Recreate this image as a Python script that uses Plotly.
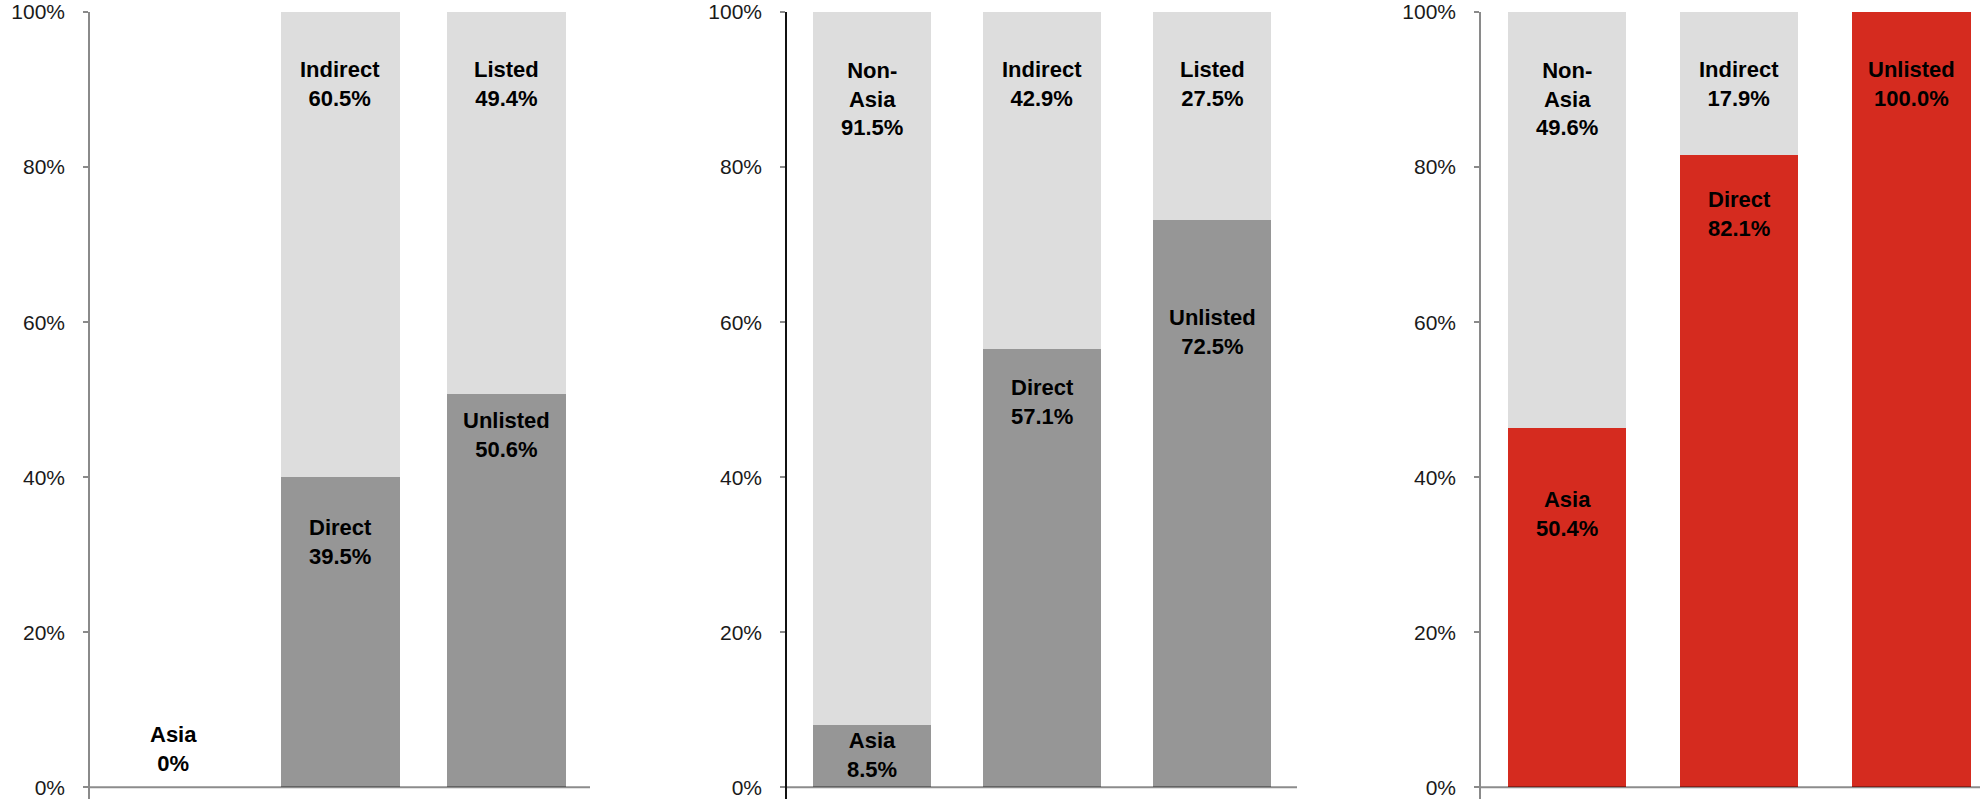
import plotly.graph_objects as go

# ---------------- data ----------------
categories = ["Region", "Route", "Listing"]

# panel 1 (bar heights as drawn, in %)
p1_bottom = [0.0, 40.0, 50.7]
p1_top = [0.0, 60.0, 49.3]
p1_bottom_labels = ["Asia<br>0%", "Direct<br>39.5%", "Unlisted<br>50.6%"]
p1_top_labels = ["", "Indirect<br>60.5%", "Listed<br>49.4%"]

# panel 2
p2_bottom = [8.1, 56.5, 73.2]
p2_top = [91.9, 43.5, 26.8]
p2_bottom_labels = ["Asia<br>8.5%", "Direct<br>57.1%", "Unlisted<br>72.5%"]
p2_top_labels = ["Non-<br>Asia<br>91.5%", "Indirect<br>42.9%", "Listed<br>27.5%"]

# panel 3
p3_bottom = [46.3, 81.5, 100.0]
p3_top = [53.7, 18.5, 0.0]
p3_bottom_labels = ["Asia<br>50.4%", "Direct<br>82.1%", "Unlisted<br>100.0%"]
p3_top_labels = ["Non-<br>Asia<br>49.6%", "Indirect<br>17.9%", ""]

y_ticks = [0, 20, 40, 60, 80, 100]
y_tick_text = ["0%", "20%", "40%", "60%", "80%", "100%"]

# label anchor heights (layout positions, % units)
p1_bottom_pos = [5.0, 31.6, 45.4]
p1_top_pos = [90.7, 90.7, 90.7]
p2_bottom_pos = [4.2, 49.7, 58.7]
p2_top_pos = [88.8, 90.7, 90.7]
p3_bottom_pos = [35.3, 74.0, 90.7]
p3_top_pos = [88.8, 90.7, 90.7]

# ---------------- style ----------------
LIGHT = "#DDDDDD"
DARK = "#969696"
RED = "#D52B1F"
FONT = "Arial, Liberation Sans, sans-serif"

panels = [
    dict(bottom=p1_bottom, top=p1_top, bl=p1_bottom_labels, tl=p1_top_labels,
         bp=p1_bottom_pos, tp=p1_top_pos, bcol=DARK, width=0.714,
         domain=[90 / 1980, 590 / 1980], xr=[-0.5, 2.5], axcol="#8a8a8a"),
    dict(bottom=p2_bottom, top=p2_top, bl=p2_bottom_labels, tl=p2_top_labels,
         bp=p2_bottom_pos, tp=p2_top_pos, bcol=DARK, width=0.694,
         domain=[787 / 1980, 1297 / 1980], xr=[-0.5, 2.5], axcol="#111111"),
    dict(bottom=p3_bottom, top=p3_top, bl=p3_bottom_labels, tl=p3_top_labels,
         bp=p3_bottom_pos, tp=p3_top_pos, bcol=RED, width=0.69,
         domain=[1481 / 1980, 1.0], xr=[-0.5, 2.4], axcol="#8a8a8a"),
]

fig = go.Figure()
annotations = []
shapes = []

for i, p in enumerate(panels, start=1):
    xa = "x" if i == 1 else f"x{i}"
    ya = "y" if i == 1 else f"y{i}"
    fig.add_trace(go.Bar(x=categories, y=p["bottom"], xaxis=xa, yaxis=ya,
                         marker=dict(color=p["bcol"], line=dict(width=0)),
                         width=p["width"], hoverinfo="skip", showlegend=False))
    fig.add_trace(go.Bar(x=categories, y=p["top"], xaxis=xa, yaxis=ya,
                         marker=dict(color=LIGHT, line=dict(width=0)),
                         width=p["width"], hoverinfo="skip", showlegend=False))
    for cat, txt, pos in zip(categories, p["bl"] + p["tl"], p["bp"] + p["tp"]):
        pass
    for labels, poss in ((p["bl"], p["bp"]), (p["tl"], p["tp"])):
        for cat, txt, pos in zip(categories, labels, poss):
            if not txt:
                continue
            annotations.append(dict(
                x=cat, y=pos, xref=xa, yref=ya, text=txt, showarrow=False,
                xanchor="center", yanchor="middle", align="center",
                font=dict(family=FONT, size=22, color="#000000", weight="bold")))
    # baseline
    shapes.append(dict(type="line", xref=f"{xa} domain", yref=ya,
                       x0=0, x1=1, y0=0, y1=0,
                       line=dict(color="rgba(0,0,0,0.45)", width=2), layer="above"))

    xkey = "xaxis" if i == 1 else f"xaxis{i}"
    ykey = "yaxis" if i == 1 else f"yaxis{i}"
    fig.update_layout(**{
        xkey: dict(domain=p["domain"], range=p["xr"], type="category",
                   showticklabels=False, showgrid=False, zeroline=False,
                   showline=False, ticks="", anchor=ya, fixedrange=True),
        ykey: dict(domain=[0, 1], range=[-1.5, 100], anchor=xa,
                   tickvals=y_ticks, ticktext=y_tick_text,
                   showgrid=False, zeroline=False,
                   showline=True, linecolor=p["axcol"], linewidth=1.5,
                   ticks="outside", ticklen=5, tickcolor="#8a8a8a", tickwidth=1.5,
                   ticklabelstandoff=14,
                   tickfont=dict(family=FONT, size=21, color="#1a1a1a"),
                   fixedrange=True),
    })

fig.update_layout(
    width=1980, height=799,
    margin=dict(l=0, r=0, t=12, b=0, pad=0),
    barmode="stack",
    plot_bgcolor="white", paper_bgcolor="white",
    annotations=annotations, shapes=shapes,
    showlegend=False,
)

fig.write_html("out.html", config={"displayModeBar": False})
